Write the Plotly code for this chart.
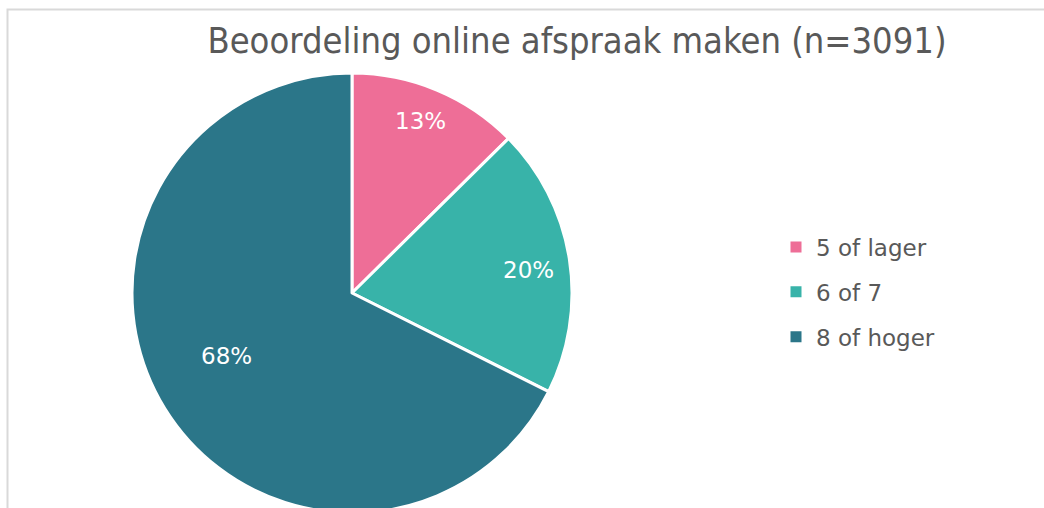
import math
import plotly.graph_objects as go

categories = ["5 of lager", "6 of 7", "8 of hoger"]
values = [12.6, 19.8, 67.6]
colors = ["#EE6E97", "#38B3A9", "#2B7689"]
title_text = "Beoordeling online afspraak maken (n=3091)"

# style: label placement (fraction of radius, angle offset in degrees) per slice
label_r = [0.84, 0.81, 0.64]
label_da = [-1.0, 1.5, 5.0]

W, H = 1044, 522
cx, cy, r = 352, 293, 220

fig = go.Figure()
fig.add_trace(go.Pie(
    labels=categories,
    values=values,
    sort=False,
    direction="clockwise",
    rotation=0,
    marker=dict(colors=colors, line=dict(color="white", width=3)),
    textinfo="none",
    showlegend=False,
    domain=dict(x=[(cx - r) / W, (cx + r) / W], y=[(H - cy - r) / H, (H - cy + r) / H]),
    hoverinfo="label+percent",
))

# legend entries (legend-only traces so that spacing can match)
for i, (cat, col) in enumerate(zip(categories, colors)):
    fig.add_trace(go.Scatter(
        x=[None], y=[None], mode="markers", name=cat,
        marker=dict(symbol="square", size=11, color=col),
        legendgroup=f"g{i}", showlegend=True, hoverinfo="skip",
    ))

# percentage labels from the values
total = sum(values)
annotations = []
cum = 0.0
for i, v in enumerate(values):
    mid = (cum + v / 2) / total * 360 + label_da[i]
    cum += v
    d = label_r[i] * r
    px = cx + d * math.sin(math.radians(mid))
    py = cy - d * math.cos(math.radians(mid))
    annotations.append(dict(
        x=px / W, y=1 - py / H, xref="paper", yref="paper",
        text=f"{round(v / total * 100):d}%", showarrow=False,
        xanchor="center", yanchor="middle",
        font=dict(family="DejaVu Sans", size=23, color="white"),
    ))

fig.update_layout(
    width=W, height=H,
    margin=dict(l=0, r=0, t=0, b=0),
    paper_bgcolor="white",
    plot_bgcolor="white",
    xaxis=dict(visible=False),
    yaxis=dict(visible=False),
    title=dict(text=title_text, x=577 / W, xanchor="center", y=1 - 40 / H, yanchor="middle",
               font=dict(family="DejaVu Sans Condensed, DejaVu Sans", size=36, color="#595959")),
    legend=dict(x=776 / W, xanchor="left", y=1 - 292 / H, yanchor="middle",
                font=dict(family="DejaVu Sans", size=23, color="#595959"),
                itemsizing="trace", tracegroupgap=12, itemwidth=30, bgcolor="rgba(0,0,0,0)"),
    annotations=annotations,
    shapes=[dict(type="rect", xref="paper", yref="paper", x0=7.5 / W, x1=1.05, y0=-0.05, y1=1 - 9.5 / H,
                 line=dict(color="#D9D9D9", width=2), fillcolor="rgba(0,0,0,0)", layer="below")],
)

fig.write_html("out.html", post_script="document.body.style.margin='0';document.body.style.overflow='hidden';document.documentElement.style.overflow='hidden';")
